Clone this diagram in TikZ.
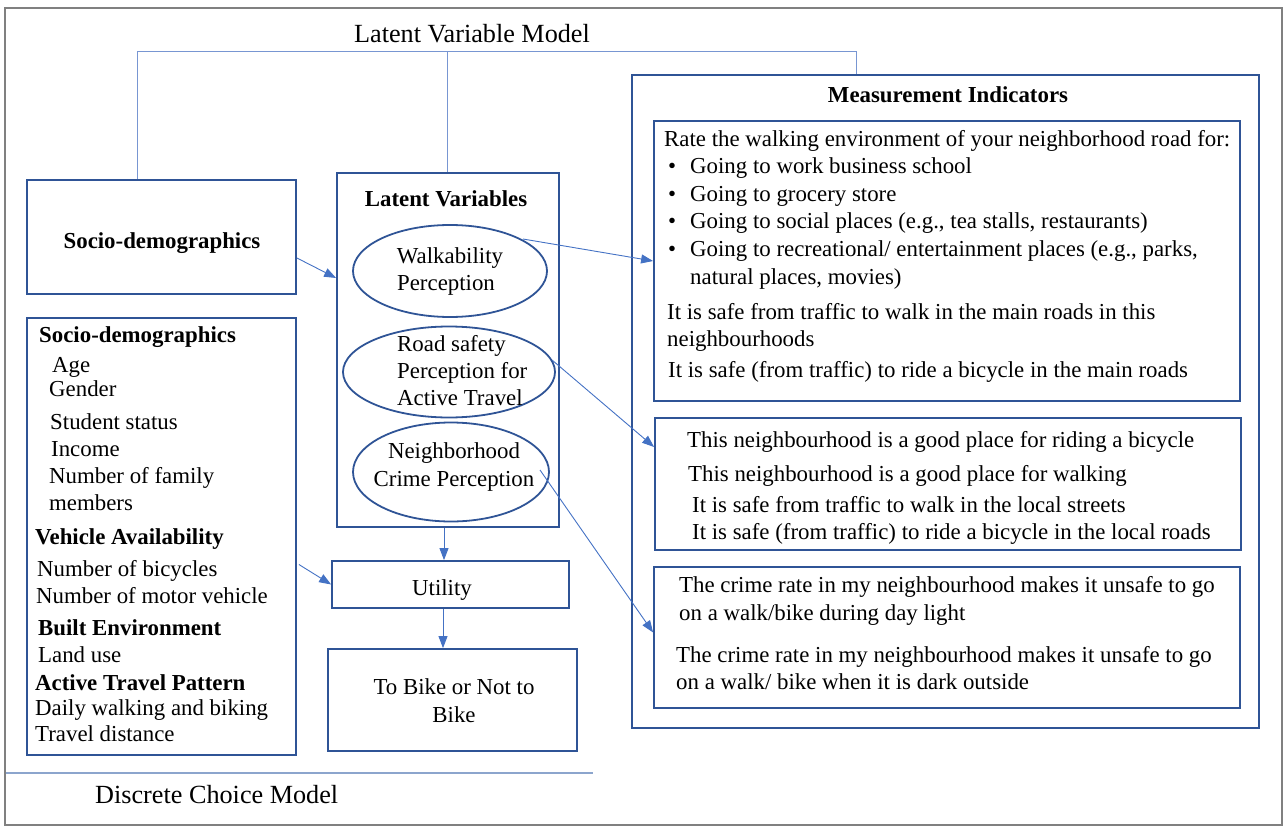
\documentclass[tikz,border=0pt]{standalone}
\usepackage{fontspec}
\setmainfont{Liberation Serif}
\usetikzlibrary{arrows.meta,calc,fit,shapes.geometric}
\definecolor{boxblue}{RGB}{47,84,150}
\definecolor{arrblue}{RGB}{68,114,196}
\definecolor{brkblue}{RGB}{120,150,210}
\definecolor{dcmblue}{RGB}{140,165,205}
\definecolor{framegray}{RGB}{128,128,128}
\tikzset{
 box/.style={draw=boxblue, line width=1.8pt, inner sep=0pt, rectangle},
 oval/.style={draw=boxblue, line width=1.8pt, ellipse, inner sep=0pt},
 arr/.style={draw=arrblue, line width=0.9pt, -{Triangle[length=12pt,width=9pt]}},
 brk/.style={draw=brkblue, line width=1pt},
 dcm/.style={draw=dcmblue, line width=1.2pt},
 txt/.style={inner sep=0pt, anchor=base west, font=\fontsize{22.85}{27}\selectfont},
 txtc/.style={inner sep=0pt, anchor=base, font=\fontsize{22.85}{27}\selectfont},
 hd/.style={inner sep=0pt, anchor=base west, font=\fontsize{22.85}{27}\selectfont\bfseries},
 hdc/.style={inner sep=0pt, anchor=base, font=\fontsize{22.85}{27}\selectfont\bfseries},
 big/.style={inner sep=0pt, font=\fontsize{26.2}{31}\selectfont},
}
\begin{document}
\begin{tikzpicture}[x=1pt,y=-1pt]
\useasboundingbox (0,0) rectangle (1284,826);
\node[draw=framegray, line width=1.5pt, fit={(5,8)(1282,825)}, inner sep=0pt] (frame) {};

% boxes
\node[box, fit={(27,180)(296,294)}] (socio) {};
\node[box, fit={(337,173)(559,527)}] (latent) {};
\node[box, fit={(332,561)(569,608)}] (util) {};
\node[box, fit={(328,649)(577,751)}] (choice) {};
\node[box, fit={(27,318)(296,755)}] (left) {};
\node[box, fit={(632,75)(1259,728)}] (meas) {};
\node[box, fit={(654,121)(1240,401)}] (ind1) {};
\node[box, fit={(655,418)(1241,550)}] (ind2) {};
\node[box, fit={(654,567)(1240,708)}] (ind3) {};

% ellipses
\node[oval, minimum width=194pt, minimum height=92pt] (ewalk) at (450,271) {};
\node[oval, minimum width=212pt, minimum height=91pt] (eroad) at (449,372) {};
\node[oval, minimum width=196pt, minimum height=99pt] (ecrime) at (451,472) {};

% titles
\node[big, anchor=base] (lvm) at (472,43) {Latent Variable Model};
\node[big, anchor=base west] (dcmt) at (95,803) {Discrete Choice Model};

% bracket lines
\coordinate (bl) at (137,52);
\coordinate (bm) at (447,52);
\coordinate (br) at (856,52);
\draw[brk] (bl |- socio.north) -- (bl) -- (br) -- (br |- meas.north);
\draw[brk] (bm) -- (bm |- latent.north);
\coordinate (dl) at (6,773);
\coordinate (dr) at (593,773);
\draw[dcm] (dl) -- (dr);

% box texts
\node[hdc] (tsocio) at (162,248) {Socio-demographics};
\node[hdc] (tlat) at (446,207) {Latent Variables};
\node[txtc] (tw1) at (450,263) {Walkability};
\node[txtc] (tw2) at (446,290) {Perception};
\node[txt] (tr1) at (397,351) {Road safety};
\node[txt] (tr2) at (397,378) {Perception for};
\node[txt] (tr3) at (397,405) {Active Travel};
\node[txtc] (tc1) at (454,458) {Neighborhood};
\node[txtc] (tc2) at (454,486) {Crime Perception};
\node[txtc] (tu) at (442,595) {Utility};
\node[txtc] (tb1) at (454,694) {To Bike or Not to};
\node[txtc] (tb2) at (454,722) {Bike};

% left list
\node[hd] (l1) at (39,342) {Socio-demographics};
\node[txt] (l2) at (52,372) {Age};
\node[txt] (l3) at (49,396) {Gender};
\node[txt] (l4) at (50,429) {Student status};
\node[txt] (l5) at (51,456) {Income};
\node[txt] (l6) at (49,483) {Number of family};
\node[txt] (l7) at (49,510) {members};
\node[hd] (l8) at (35,544) {Vehicle Availability};
\node[txt] (l9) at (37,576) {Number of bicycles};
\node[txt] (l10) at (36,603) {Number of motor vehicle};
\node[hd] (l11) at (38,635) {Built Environment};
\node[txt] (l12) at (38,662) {Land use};
\node[hd] (l13) at (35,690) {Active Travel Pattern};
\node[txt] (l14) at (35,715) {Daily walking and biking};
\node[txt] (l15) at (35,741) {Travel distance};

% measurement indicators
\node[hdc] (tmeas) at (948,103) {Measurement Indicators};
\node[txt] (m1) at (664,147) {Rate the walking environment of your neighborhood road for:};
\node[txt] (b1) at (668,174) {•};
\node[txt] (m2) at (690,174) {Going to work business school};
\node[txt] (b2) at (668,202) {•};
\node[txt] (m3) at (690,202) {Going to grocery store};
\node[txt] (b3) at (668,229) {•};
\node[txt] (m4) at (690,229) {Going to social places (e.g., tea stalls, restaurants)};
\node[txt] (b4) at (668,257) {•};
\node[txt] (m5) at (690,257) {Going to recreational/ entertainment places (e.g., parks,};
\node[txt] (m6) at (690,284) {natural places, movies)};
\node[txt] (m7) at (667,319) {It is safe from traffic to walk in the main roads in this};
\node[txt] (m8) at (667,346) {neighbourhoods};
\node[txt] (m9) at (668,377) {It is safe (from traffic) to ride a bicycle in the main roads};

\node[txt] (n1) at (687,447) {This neighbourhood is a good place for riding a bicycle};
\node[txt] (n2) at (688,481) {This neighbourhood is a good place for walking};
\node[txt] (n3) at (692,512) {It is safe from traffic to walk in the local streets};
\node[txt] (n4) at (692,539) {It is safe (from traffic) to ride a bicycle in the local roads};

\node[txt] (c1) at (679,592) {The crime rate in my neighbourhood makes it unsafe to go};
\node[txt] (c2) at (679,620) {on a walk/bike during day light};
\node[txt] (c3) at (676,662) {The crime rate in my neighbourhood makes it unsafe to go};
\node[txt] (c4) at (676,689) {on a walk/ bike when it is dark outside};

% connectors
\draw[arr] ($(socio.east)+(0,21)$) -- ($(latent.west)+(0,-72)$);
\draw[arr] ($(ewalk.center)+(73,-32)$) -- (ind1.west);
\draw[arr] ($(eroad.center)+(103,-12)$) -- ($(ind2.west)+(0,-37)$);
\draw[arr] ($(ecrime.center)+(89,-2)$) -- ($(ind3.west)+(0,-5)$);
\draw[arr] ($(left.east)+(2,28)$) -- (util.west);
\draw[arr] ($(latent.south)+(-4,0)$) -- ($(util.north)+(-6.5,0)$);
\draw[arr] ($(util.south)+(-7.5,0)$) -- ($(choice.north)+(-9.5,0)$);
\end{tikzpicture}
\end{document}
